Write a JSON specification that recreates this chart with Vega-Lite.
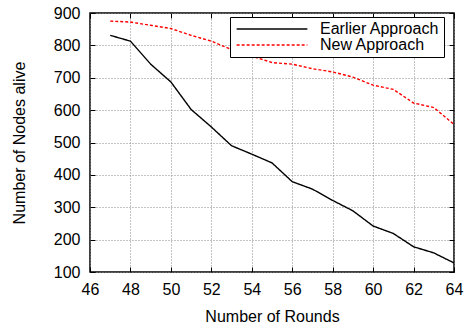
{
  "$schema": "https://vega.github.io/schema/vega-lite/v6.json",
  "autosize": {"type": "none"},
  "width": 364,
  "height": 259,
  "padding": {"left": 90, "top": 13, "right": 10, "bottom": 57},
  "background": "white",
  "config": {
    "font": "Liberation Sans",
    "view": {"stroke": "black", "strokeWidth": 1.5},
    "axis": {
      "labelFont": "Liberation Sans",
      "titleFont": "Liberation Sans",
      "labelFontSize": 16,
      "titleFontSize": 16,
      "titleFontWeight": "normal",
      "labelColor": "black",
      "titleColor": "black",
      "domain": false,
      "tickColor": "black",
      "tickWidth": 1,
      "gridColor": "#888888",
      "gridDash": [1, 2],
      "gridWidth": 1,
      "gridOpacity": 1
    }
  },
  "data": {
    "values": [
      {"Round": 47, "Nodes": 831, "Approach": "Earlier Approach"},
      {"Round": 48, "Nodes": 813, "Approach": "Earlier Approach"},
      {"Round": 49, "Nodes": 742, "Approach": "Earlier Approach"},
      {"Round": 50, "Nodes": 687, "Approach": "Earlier Approach"},
      {"Round": 51, "Nodes": 602, "Approach": "Earlier Approach"},
      {"Round": 52, "Nodes": 548, "Approach": "Earlier Approach"},
      {"Round": 53, "Nodes": 490, "Approach": "Earlier Approach"},
      {"Round": 54, "Nodes": 464, "Approach": "Earlier Approach"},
      {"Round": 55, "Nodes": 437, "Approach": "Earlier Approach"},
      {"Round": 56, "Nodes": 379, "Approach": "Earlier Approach"},
      {"Round": 57, "Nodes": 356, "Approach": "Earlier Approach"},
      {"Round": 58, "Nodes": 321, "Approach": "Earlier Approach"},
      {"Round": 59, "Nodes": 289, "Approach": "Earlier Approach"},
      {"Round": 60, "Nodes": 242, "Approach": "Earlier Approach"},
      {"Round": 61, "Nodes": 219, "Approach": "Earlier Approach"},
      {"Round": 62, "Nodes": 178, "Approach": "Earlier Approach"},
      {"Round": 63, "Nodes": 159, "Approach": "Earlier Approach"},
      {"Round": 64, "Nodes": 128, "Approach": "Earlier Approach"},
      {"Round": 47, "Nodes": 875, "Approach": "New Approach"},
      {"Round": 48, "Nodes": 872, "Approach": "New Approach"},
      {"Round": 49, "Nodes": 862, "Approach": "New Approach"},
      {"Round": 50, "Nodes": 852, "Approach": "New Approach"},
      {"Round": 51, "Nodes": 831, "Approach": "New Approach"},
      {"Round": 52, "Nodes": 813, "Approach": "New Approach"},
      {"Round": 53, "Nodes": 787, "Approach": "New Approach"},
      {"Round": 54, "Nodes": 767, "Approach": "New Approach"},
      {"Round": 55, "Nodes": 747, "Approach": "New Approach"},
      {"Round": 56, "Nodes": 742, "Approach": "New Approach"},
      {"Round": 57, "Nodes": 728, "Approach": "New Approach"},
      {"Round": 58, "Nodes": 718, "Approach": "New Approach"},
      {"Round": 59, "Nodes": 702, "Approach": "New Approach"},
      {"Round": 60, "Nodes": 677, "Approach": "New Approach"},
      {"Round": 61, "Nodes": 664, "Approach": "New Approach"},
      {"Round": 62, "Nodes": 622, "Approach": "New Approach"},
      {"Round": 63, "Nodes": 608, "Approach": "New Approach"},
      {"Round": 64, "Nodes": 556, "Approach": "New Approach"}
    ]
  },
  "layer": [
    {
      "mark": {"type": "line", "strokeWidth": 1.4},
      "encoding": {
        "x": {
          "field": "Round", "type": "quantitative",
          "scale": {"domain": [46, 64], "nice": false, "zero": false},
          "axis": {"orient": "bottom", "values": [46, 48, 50, 52, 54, 56, 58, 60, 62, 64], "title": "Number of Rounds", "grid": true, "tickSize": -5, "labelPadding": 14, "titlePadding": 11, "labelFlush": false}
        },
        "y": {
          "field": "Nodes", "type": "quantitative",
          "scale": {"domain": [100, 900], "nice": false, "zero": false},
          "axis": {"orient": "left", "values": [100, 200, 300, 400, 500, 600, 700, 800, 900], "title": "Number of Nodes alive", "grid": true, "tickSize": -5, "labelPadding": 15, "titlePadding": 26, "labelFlush": false}
        },
        "color": {
          "field": "Approach", "type": "nominal",
          "scale": {"domain": ["Earlier Approach", "New Approach"], "range": ["black", "red"]},
          "legend": {
            "title": null, "orient": "none", "legendX": 140, "legendY": 4,
            "strokeColor": "black", "fillColor": "white", "padding": 4,
            "labelFontSize": 16, "labelFont": "Liberation Sans", "labelColor": "black",
            "symbolType": "M-5,0L5,0", "symbolSize": 200, "symbolStrokeWidth": 1.4,
            "rowPadding": 0, "symbolOffset": 30, "labelOffset": 40
          }
        },
        "strokeDash": {
          "field": "Approach", "type": "nominal",
          "scale": {"domain": ["Earlier Approach", "New Approach"], "range": [[1, 0], [3, 2]]},
          "legend": {
            "title": null, "orient": "none", "legendX": 140, "legendY": 4,
            "strokeColor": "black", "fillColor": "white", "padding": 4,
            "labelFontSize": 16, "labelFont": "Liberation Sans", "labelColor": "black",
            "symbolType": "M-5,0L5,0", "symbolSize": 200, "symbolStrokeWidth": 1.4,
            "rowPadding": 0, "symbolOffset": 30, "labelOffset": 40
          }
        }
      }
    },
    {
      "mark": {"type": "line", "opacity": 0},
      "encoding": {
        "x": {
          "field": "Round", "type": "quantitative",
          "axis": {"orient": "top", "values": [46, 48, 50, 52, 54, 56, 58, 60, 62, 64], "title": null, "labels": false, "grid": false, "tickSize": -5}
        },
        "y": {
          "field": "Nodes", "type": "quantitative",
          "axis": {"orient": "right", "values": [100, 200, 300, 400, 500, 600, 700, 800, 900], "title": null, "labels": false, "grid": false, "tickSize": -5}
        },
        "detail": {"field": "Approach"}
      }
    }
  ],
  "resolve": {"axis": {"x": "independent", "y": "independent"}}
}
